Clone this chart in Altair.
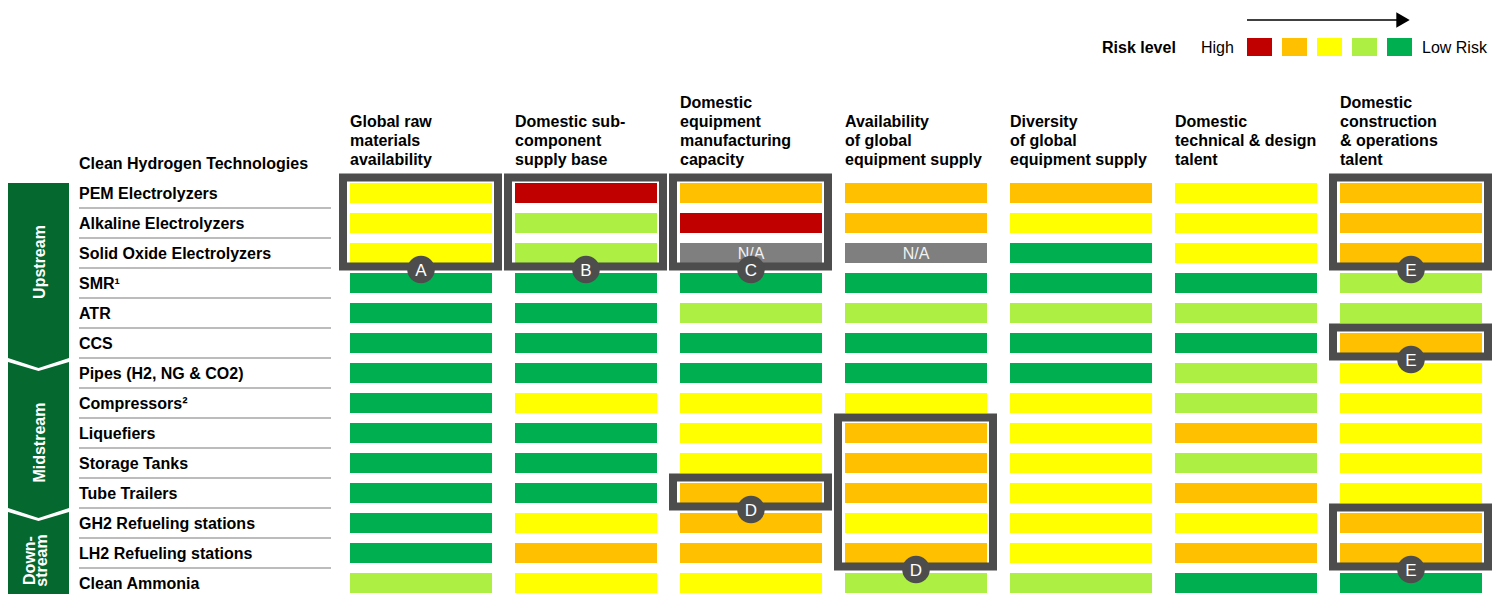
import altair as alt
import pandas as pd

# ---------------- data ----------------
technologies = [
    "PEM Electrolyzers", "Alkaline Electrolyzers", "Solid Oxide Electrolyzers",
    "SMR¹", "ATR", "CCS", "Pipes (H2, NG & CO2)", "Compressors²", "Liquefiers",
    "Storage Tanks", "Tube Trailers", "GH2 Refueling stations",
    "LH2 Refueling stations", "Clean Ammonia",
]
criteria = [
    ["Global raw", "materials", "availability"],
    ["Domestic sub-", "component", "supply base"],
    ["Domestic", "equipment", "manufacturing", "capacity"],
    ["Availability", "of global", "equipment supply"],
    ["Diversity", "of global", "equipment supply"],
    ["Domestic", "technical & design", "talent"],
    ["Domestic", "construction", "& operations", "talent"],
]
levels = ["N/A", "High", "Medium-high", "Medium", "Medium-low", "Low"]
level_colors = ["#7F7F7F", "#C00000", "#FFC000", "#FFFF00", "#ADEF42", "#00B050"]

# risk level per technology: 1 = High (red) ... 5 = Low (green), 0 = N/A
global_raw    = [3, 3, 3, 5, 5, 5, 5, 5, 5, 5, 5, 5, 5, 4]
sub_component = [1, 4, 4, 5, 5, 5, 5, 3, 5, 5, 5, 3, 2, 3]
equip_mfg     = [2, 1, 0, 5, 4, 5, 5, 3, 3, 3, 2, 2, 2, 3]
avail_global  = [2, 2, 0, 5, 4, 5, 5, 3, 2, 2, 2, 3, 2, 4]
diversity     = [2, 3, 5, 5, 4, 5, 5, 3, 3, 3, 3, 3, 3, 4]
tech_talent   = [3, 3, 3, 5, 4, 5, 4, 4, 2, 4, 2, 3, 2, 5]
constr_talent = [2, 2, 2, 4, 4, 2, 3, 3, 3, 3, 3, 2, 2, 5]
columns_values = [global_raw, sub_component, equip_mfg, avail_global,
                  diversity, tech_talent, constr_talent]

section_names = ["Upstream", "Midstream", "Downstream"]
section_first = [0, 6, 11]
section_last = [5, 10, 13]

highlight_col   = [0, 1, 2, 2, 3, 6, 6, 6]
highlight_first = [0, 0, 0, 10, 8, 0, 5, 11]
highlight_last  = [2, 2, 2, 10, 12, 2, 5, 12]
highlight_label = ["A", "B", "C", "D", "D", "E", "E", "E"]

legend_levels = ["High", "Medium-high", "Medium", "Medium-low", "Low"]

# ---------------- layout (style) ----------------
FONT = "Liberation Sans"
W, H = 1486, 586
CX = 165.0   # px per column
RY = 30.0    # px per row
COL0 = 413.0  # px of first column centre inside chart
ROW0 = 185.0  # px of first row centre inside chart


def ux(px):  # chart px -> column units
    return (px - COL0) / CX


def uy(px):  # chart px -> row units
    return (px - ROW0) / RY


X_DOM = [ux(0), ux(W)]
Y_DOM = [uy(0), uy(H)]


def X(f):
    return alt.X(f, type="quantitative", axis=None,
                 scale=alt.Scale(domain=X_DOM, nice=False, zero=False))


def Y(f, **kw):
    return alt.Y(f, type="quantitative", axis=None,
                 scale=alt.Scale(domain=Y_DOM, nice=False, zero=False, reverse=True), **kw)


BAR_HW = 71 / CX
BAR_HH = 10 / RY
DARK = "#4D4D4D"
GREEN_DARK = "#04682F"

# ---------------- frames ----------------
cells = pd.DataFrame([
    {"col": c, "row": r, "level": levels[v]}
    for c, vals in enumerate(columns_values) for r, v in enumerate(vals)
])
rows_df = pd.DataFrame({"row": list(range(len(technologies))), "name": technologies})
sep_df = pd.DataFrame({"row": list(range(len(technologies) - 1))})
hdr_df = pd.DataFrame([
    {"col": c, "k": len(lines) - 1 - i, "text": t}
    for c, lines in enumerate(criteria) for i, t in enumerate(lines)
])
box_df = pd.DataFrame({"col": highlight_col, "first": highlight_first,
                       "last": highlight_last, "label": highlight_label})
leg_df = pd.DataFrame({"k": list(range(len(legend_levels))), "level": legend_levels})

# section chevrons (left, centre, right points)
sec_x = [ux(0), ux(30.5), ux(61)]
sec_pts = []
for i, name in enumerate(section_names):
    top_side = section_first[i] - 0.333 if i == 0 else section_first[i] - 0.37
    top_mid = section_first[i] - 0.333 if i == 0 else section_first[i] - 0.07
    bot_side = section_last[i] + 0.5
    bot_mid = section_last[i] + 0.83 if i < 2 else section_last[i] + 0.5
    for j, xx in enumerate(sec_x):
        sec_pts.append({"section": name, "x": xx,
                        "yt": top_mid if j == 1 else top_side,
                        "yb": bot_mid if j == 1 else bot_side})
sec_df = pd.DataFrame(sec_pts)

sec_txt = pd.DataFrame([
    {"t": "Upstream", "x": ux(37), "y": 2.3},
    {"t": "Midstream", "x": ux(37), "y": 8.32},
    {"t": "Down-", "x": ux(27), "y": 12.25},
    {"t": "stream", "x": ux(39), "y": 12.25},
])

# ---------------- layers ----------------
color = alt.Color("level:N", scale=alt.Scale(domain=levels, range=level_colors), legend=None)

bars = alt.Chart(cells).transform_calculate(
    xa=f"datum.col - {BAR_HW}", xb=f"datum.col + {BAR_HW}",
    ya=f"datum.row - {BAR_HH}", yb=f"datum.row + {BAR_HH}",
).mark_rect().encode(x=X("xa:Q"), x2=alt.X2("xb:Q"), y=Y("ya:Q"), y2=alt.Y2("yb:Q"), color=color)

na_text = alt.Chart(cells).transform_filter("datum.level == 'N/A'").mark_text(
    font=FONT, fontSize=16, color="#F2F2F2", baseline="middle", dy=1
).encode(x=X("col:Q"), y=Y("row:Q"), text="level:N")

row_labels = alt.Chart(rows_df).transform_calculate(xl=str(ux(71))).mark_text(
    font=FONT, fontSize=16, fontWeight="bold", align="left", baseline="alphabetic",
    color="black", dy=6
).encode(x=X("xl:Q"), y=Y("row:Q"), text="name:N")

seps = alt.Chart(sep_df).transform_calculate(
    xa=str(ux(71)), xb=str(ux(323)), yy="datum.row + 0.5"
).mark_rule(color="#A6A6A6", strokeWidth=1.5).encode(x=X("xa:Q"), x2=alt.X2("xb:Q"), y=Y("yy:Q"))

title_df = pd.DataFrame({"t": ["Clean Hydrogen Technologies"], "x": [ux(71)], "y": [uy(161.3)]})
title = alt.Chart(title_df).mark_text(
    font=FONT, fontSize=16, fontWeight="bold", align="left", baseline="alphabetic", color="black"
).encode(x=X("x:Q"), y=Y("y:Q"), text="t:N")

headers = alt.Chart(hdr_df).transform_calculate(
    xh=f"datum.col - {BAR_HW}", yh=f"{uy(156.5)} - datum.k * {19 / RY}"
).mark_text(
    font=FONT, fontSize=16, fontWeight="bold", align="left", baseline="alphabetic", color="black"
).encode(x=X("xh:Q"), y=Y("yh:Q"), text="text:N")

boxes = alt.Chart(box_df).transform_calculate(
    xa=f"datum.col - {78 / CX}", xb=f"datum.col + {77 / CX}",
    ya=f"datum.first - {15.5 / RY}", yb=f"datum.last + {13.5 / RY}",
).mark_rect(fillOpacity=0, stroke=DARK, strokeWidth=8).encode(
    x=X("xa:Q"), x2=alt.X2("xb:Q"), y=Y("ya:Q"), y2=alt.Y2("yb:Q"))

badges = alt.Chart(box_df).transform_calculate(yc=f"datum.last + {16.5 / RY}").mark_circle(
    size=760, color=DARK, opacity=1).encode(x=X("col:Q"), y=Y("yc:Q"))

badge_txt = alt.Chart(box_df).transform_calculate(yc=f"datum.last + {16.5 / RY}").mark_text(
    font=FONT, fontSize=17, color="white", baseline="middle", dy=1
).encode(x=X("col:Q"), y=Y("yc:Q"), text="label:N")

sections = alt.Chart(sec_df).mark_area(orient="vertical", color=GREEN_DARK, opacity=1).encode(
    x=X("x:Q"), y=Y("yt:Q", stack=False), y2=alt.Y2("yb:Q"), detail="section:N")

sec_labels = alt.Chart(sec_txt).mark_text(
    font=FONT, fontSize=16, fontWeight="bold", color="white", angle=270,
    align="center", baseline="alphabetic"
).encode(x=X("x:Q"), y=Y("y:Q"), text="t:N")

# legend
leg_sq = alt.Chart(leg_df).transform_calculate(
    xa=f"{ux(1239)} + datum.k * {35 / CX}", xb=f"{ux(1264)} + datum.k * {35 / CX}",
    ya=str(uy(30)), yb=str(uy(48)),
).mark_rect().encode(x=X("xa:Q"), x2=alt.X2("xb:Q"), y=Y("ya:Q"), y2=alt.Y2("yb:Q"), color=color)

leg_txt_df = pd.DataFrame([
    {"t": "Risk level", "x": ux(1094), "w": "bold"},
    {"t": "High", "x": ux(1193), "w": "normal"},
    {"t": "Low Risk", "x": ux(1414), "w": "normal"},
])
leg_bold = alt.Chart(leg_txt_df).transform_filter("datum.w == 'bold'").transform_calculate(
    y=str(uy(45))).mark_text(font=FONT, fontSize=16, fontWeight="bold", align="left",
                             baseline="alphabetic", color="black").encode(
    x=X("x:Q"), y=Y("y:Q"), text="t:N")
leg_norm = alt.Chart(leg_txt_df).transform_filter("datum.w == 'normal'").transform_calculate(
    y=str(uy(45))).mark_text(font=FONT, fontSize=16, align="left",
                             baseline="alphabetic", color="black").encode(
    x=X("x:Q"), y=Y("y:Q"), text="t:N")

arrow_df = pd.DataFrame({"xa": [ux(1239)], "xb": [ux(1390)], "y": [uy(12)], "xt": [ux(1395)]})
arrow_line = alt.Chart(arrow_df).mark_rule(color="black", strokeWidth=1.5).encode(
    x=X("xa:Q"), x2=alt.X2("xb:Q"), y=Y("y:Q"))
arrow_head = alt.Chart(arrow_df).mark_point(
    shape="triangle-right", filled=True, color="black", size=240, opacity=1).encode(
    x=X("xt:Q"), y=Y("y:Q"))

chart = alt.layer(
    sections, sec_labels, seps, row_labels, title, headers, bars, na_text,
    boxes, badges, badge_txt, leg_sq, leg_bold, leg_norm, arrow_line, arrow_head,
).properties(
    width=W, height=H, padding=0, autosize=alt.AutoSizeParams(type="none")
).configure_view(stroke=None)

chart.save("out.html", embed_options={"renderer": "svg", "actions": False})
